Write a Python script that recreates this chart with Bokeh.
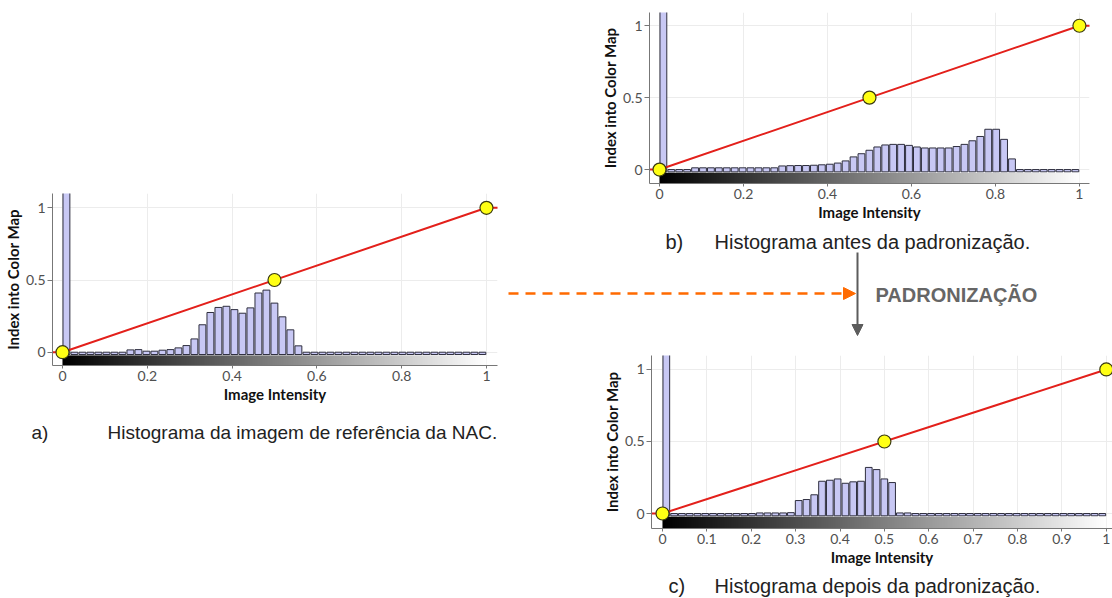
import numpy as np
from bokeh.plotting import figure
from bokeh.layouts import row, column
from bokeh.models import Range1d, FixedTicker, Spacer, Arrow, NormalHead, LinearColorMapper, Label
from bokeh.embed import file_html
from bokeh.resources import INLINE

# ---------------- data ----------------
# histogram bar heights (first bin is the huge background spike, clipped by the frame)
hist_a = [4.0, 0.0, 0.0, 0.0, 0.0, 0.0, 0.0, 0.0,
          0.016, 0.018, 0.007, 0.007, 0.014, 0.018, 0.03, 0.046, 0.092,
          0.19, 0.275, 0.31, 0.318, 0.295, 0.27, 0.307, 0.41, 0.43, 0.34,
          0.245, 0.155, 0.044] + [0.0] * 23
hist_b = [4.0, 0.0, 0.0, 0.0] + [0.012] * 11 + \
         [0.025, 0.027, 0.028, 0.028, 0.03, 0.033,
          0.037, 0.045, 0.06, 0.088,
          0.11, 0.134, 0.157, 0.171, 0.175, 0.175, 0.168, 0.157, 0.15, 0.15,
          0.15, 0.15, 0.16, 0.175, 0.2, 0.23, 0.28, 0.28, 0.21, 0.074] + [0.0] * 8
hist_c = [4.0] + [0.0] * 11 + [0.004, 0.004, 0.004, 0.004, 0.006] + \
         [0.09, 0.097, 0.13, 0.224, 0.231, 0.24, 0.21, 0.22, 0.224, 0.32,
          0.305, 0.24, 0.215] + [0.004, 0.004] + [0.0] * 25

# transfer function (line extended flat beyond the data range) and control points
tf_x = [-0.05, 0.0, 1.0, 1.05]
tf_y = [0.0, 0.0, 1.0, 1.0]
ctrl_x = [0.0, 0.5, 1.0]
ctrl_y = [0.0, 0.5, 1.0]

y_ticks = [0, 0.5, 1]
y_tick_labels = ["0", "0.5", "1"]
x_ticks_ab = [0, 0.2, 0.4, 0.6, 0.8, 1]
x_tick_labels_ab = ["0", "0.2", "0.4", "0.6", "0.8", "1"]
x_ticks_c = [0, 0.1, 0.2, 0.3, 0.4, 0.5, 0.6, 0.7, 0.8, 0.9, 1]
x_tick_labels_c = ["0", "0.1", "0.2", "0.3", "0.4", "0.5", "0.6", "0.7", "0.8", "0.9", "1"]

x_title = "Image Intensity"
y_title = "Index into Color Map"
cap_a_lbl, cap_a_txt = "a)", "Histograma da imagem de referência da NAC."
cap_b_lbl, cap_b_txt = "b)", "Histograma antes da padronização."
cap_c_lbl, cap_c_txt = "c)", "Histograma depois da padronização."
mid_txt = "PADRONIZAÇÃO"

# ---------------- style ----------------
BAR_FILL = "#c8c8f4"
BAR_LINE = "#2e2e3e"
RED = "#e3201b"
YELLOW = "#ffff14"
BASE = -0.016
GRAD_TOP = -0.022
GREYS = ["#%02x%02x%02x" % (v, v, v) for v in range(256)]
TICK_FONT = "Lato"
CAP_FONT = "Liberation Sans"
ORANGE = "#ff6a00"
GRAY = "#5c5c5c"


def panel(hist, xr, yr, xticks, xlabels, width, height, bl, br, bt, bb):
    p = figure(width=width, height=height, x_range=Range1d(*xr), y_range=Range1d(*yr),
               output_backend="svg", toolbar_location=None,
               min_border_left=bl, min_border_right=br, min_border_top=bt, min_border_bottom=bb,
               outline_line_color=None, background_fill_color="white", border_fill_color="white")
    n = len(hist)
    idx = np.arange(n)
    p.xgrid.ticker = FixedTicker(ticks=xticks)
    p.ygrid.ticker = FixedTicker(ticks=y_ticks)
    p.grid.grid_line_color = "#ececec"
    p.grid.grid_line_width = 1
    p.quad(left=(idx + 0.06) / n, right=(idx + 0.92) / n, bottom=BASE, top=hist,
           fill_color=BAR_FILL, line_color=BAR_LINE, line_width=1)
    grad = np.linspace(0, 1, 256)[None, :]
    mapper = LinearColorMapper(palette=GREYS, low=0, high=1)
    p.image(image=[grad], x=0, y=yr[0], dw=1, dh=GRAD_TOP - yr[0], color_mapper=mapper)
    p.line(tf_x, tf_y, line_color=RED, line_width=2)
    p.scatter(ctrl_x, ctrl_y, size=13, fill_color=YELLOW, line_color="#3a3a10", line_width=1.2)

    p.xaxis.ticker = FixedTicker(ticks=xticks)
    p.xaxis.major_label_overrides = {t: l for t, l in zip(xticks, xlabels)}
    p.yaxis.ticker = FixedTicker(ticks=y_ticks)
    p.yaxis.major_label_overrides = {t: l for t, l in zip(y_ticks, y_tick_labels)}
    p.xaxis.axis_label = x_title
    p.yaxis.axis_label = y_title
    for ax in (p.xaxis[0], p.yaxis[0]):
        ax.axis_label_text_font = TICK_FONT
        ax.axis_label_text_font_style = "bold"
        ax.axis_label_text_font_size = "15px"
        ax.axis_label_text_color = "#111111"
        ax.axis_label_standoff = 1
        ax.major_label_text_font = TICK_FONT
        ax.major_label_text_font_size = "14px"
        ax.major_label_text_color = "#505050"
        ax.major_label_standoff = 2
        ax.axis_line_color = "#777777"
        ax.major_tick_line_color = "#777777"
        ax.minor_tick_line_color = None
        ax.major_tick_in = 0
    p.xaxis.major_tick_out = 3
    p.yaxis.major_tick_out = 5
    return p


def canvas(w, h):
    # borderless frame: data units == pixels of this block
    c = figure(width=w, height=h, x_range=Range1d(0, w), y_range=Range1d(h, 0),
               output_backend="svg", toolbar_location=None, min_border=0,
               min_border_left=0, min_border_right=0, min_border_top=0, min_border_bottom=0,
               x_axis_location=None, y_axis_location=None, outline_line_color=None)
    c.grid.visible = False
    return c


def add_label(c, x, y, txt, size="19px", style="normal", color="#222222"):
    c.add_layout(Label(x=x, y=y, text=txt, text_font=CAP_FONT, text_font_size=size,
                       text_font_style=style, text_color=color, text_baseline="middle",
                       text_align="left"))


def caption(c, x_lbl, x_txt, y, lbl, txt, size):
    add_label(c, x_lbl, y, lbl, size=size)
    add_label(c, x_txt, y, txt, size=size)


# panels
fig_a = panel(hist_a, (-0.0236, 1.026), (-0.092, 1.099), x_ticks_ab, x_tick_labels_ab,
              505, 220, 52, 8, 8, 40)
fig_b = panel(hist_b, (-0.0238, 1.024), (-0.097, 1.092), x_ticks_ab, x_tick_labels_ab,
              607, 223, 144, 23, 12, 40)
fig_c = panel(hist_c, (-0.0248, 1.014), (-0.104, 1.097), x_ticks_c, x_tick_labels_c,
              607, 213, 146, 0, 0, 40)

cap_a = canvas(505, 55)
caption(cap_a, 31, 107, 27, cap_a_lbl, cap_a_txt, "19px")

mid = canvas(607, 132)
caption(mid, 160, 209, 18, cap_b_lbl, cap_b_txt, "20px")
mid.add_layout(Arrow(end=NormalHead(size=11, fill_color=GRAY, line_color=GRAY),
                     x_start=352, y_start=29, x_end=352, y_end=112,
                     line_color=GRAY, line_width=2))
mid.add_layout(Arrow(end=NormalHead(size=12, fill_color=ORANGE, line_color=ORANGE),
                     x_start=3, y_start=70, x_end=350, y_end=70,
                     line_color=ORANGE, line_width=2.5, line_dash="10 7"))
add_label(mid, 370, 71, mid_txt, size="20px", style="bold", color="#666666")

cap_c = canvas(607, 30)
caption(cap_c, 163, 209, 17, cap_c_lbl, cap_c_txt, "20px")

left = column(Spacer(width=505, height=185), row(fig_a), row(cap_a))
right = column(row(fig_b), row(mid), row(fig_c), row(cap_c))
layout = row(left, right)

open("out.html", "w").write(file_html(layout, INLINE))
